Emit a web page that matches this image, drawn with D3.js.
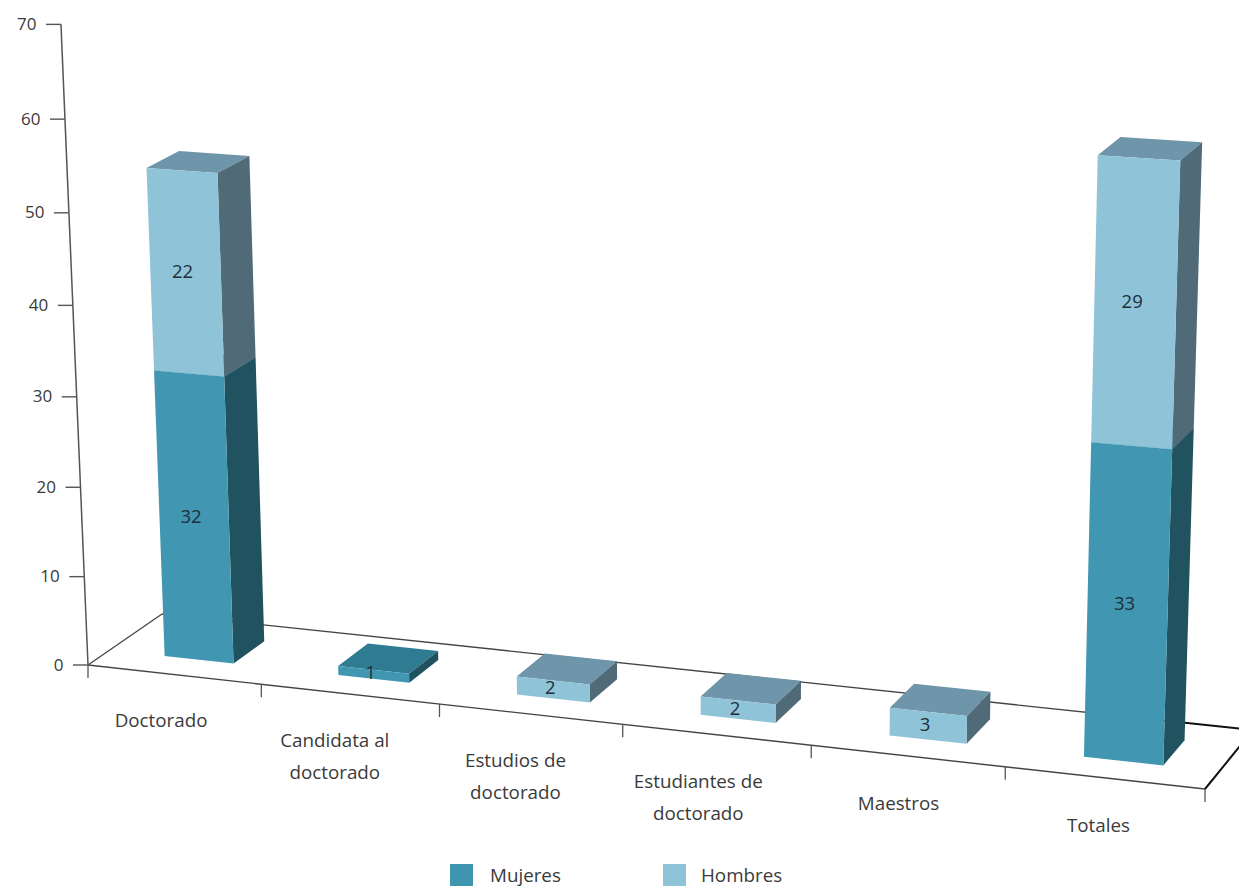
<!DOCTYPE html>
<html lang="es">
<head>
<meta charset="utf-8">
<style>
html,body{margin:0;padding:0;background:#fff;}
svg{display:block;}
text{font-family:"Open Sans",sans-serif;}
</style>
<script src="https://cdn.jsdelivr.net/npm/d3@7"></script>
</head>
<body>
<svg id="chart" width="1239" height="888"></svg>
<script>
// ---- data ----
const categories = [["Doctorado"],["Candidata al","doctorado"],["Estudios de","doctorado"],["Estudiantes de","doctorado"],["Maestros"],["Totales"]];
const mujeres = [32,1,0,0,0,33];
const hombres = [22,0,2,2,3,29];
const seriesNames = ["Mujeres","Hombres"];
const yTicks = [0,10,20,30,40,50,60,70];

// ---- styles ----
const faces = {
  Mujeres:{front:"#4197b2",side:"#20525f",top:"#2f7c92",legend:"#3f95ae"},
  Hombres:{front:"#8fc3d8",side:"#506a78",top:"#6f95aa",legend:"#8fc3d8"}
};

// ---- perspective: floor quad (front-left, front-right, back-right, back-left) and vertical vanishing point ----
const quad = [[88,665],[1205,789],[1253,730],[162,614]];
const vanish = [735,16000];
function floorMatrix(q){
  const [[x0,y0],[x1,y1],[x2,y2],[x3,y3]] = q;
  const dx1=x1-x2, dx2=x3-x2, sx=x0-x1+x2-x3;
  const dy1=y1-y2, dy2=y3-y2, sy=y0-y1+y2-y3;
  const den=dx1*dy2-dx2*dy1;
  const g=(sx*dy2-dx2*sy)/den, h=(dx1*sy-sx*dy1)/den;
  return {a:x1-x0+g*x1,b:x3-x0+h*x3,c:x0,d:y1-y0+g*y1,e:y3-y0+h*y3,f:y0,g,h};
}
const M = floorMatrix(quad);
const keys = categories.map(c=>c.join(" "));
const band = d3.scaleBand().domain(keys).range([0,1]).paddingInner(0.6).paddingOuter(0.3);
const rise = d3.scaleLinear().domain([0,70]).range([0,0.0401]);
const barDepth = [0.29,0.72];
const barShift = 0.0035;
const labelDx = d3.scaleOrdinal().domain(keys).range([-13,-15,-15,-18,-9,-6]);
const labelDy = d3.scaleLinear().domain([0,1]).range([47,49]);

function project(u,v,val){
  const t = rise(val);
  const X = M.a*u+M.b*v+M.c - t*vanish[0];
  const Y = M.d*u+M.e*v+M.f - t*vanish[1];
  const W = M.g*u+M.h*v+1 - t;
  return [X/W,Y/W];
}

const svg = d3.select("#chart");
const poly = d3.line().curve(d3.curveLinearClosed);

// ---- floor lines ----
const gFloor = svg.append("g").attr("fill","none").attr("stroke-linecap","butt");
const edge = (a,b,col,w)=>gFloor.append("line")
  .attr("x1",a[0]).attr("y1",a[1]).attr("x2",b[0]).attr("y2",b[1])
  .attr("stroke",col).attr("stroke-width",w);
edge(project(0,0,0),project(0,1,0),"#444",1.3);
edge(project(0,0,0),project(1,0,0),"#444",1.4);
edge(project(0,1,0),project(0.9,1,0),"#444",1.3);
edge(project(0.9,1,0),project(1,1,0),"#111",2);
edge(project(1,0,0),project(1,1,0),"#111",2);

// ---- value axis ----
const gAxis = svg.append("g");
edge(project(0,0,0),project(0,0,70),"#555",1.5);
yTicks.forEach(v=>{
  const p = project(0,0,v);
  gAxis.append("line").attr("x1",p[0]-15).attr("y1",p[1]).attr("x2",p[0]).attr("y2",p[1])
    .attr("stroke","#555").attr("stroke-width",1.4);
  gAxis.append("text").attr("x",p[0]-24.5).attr("y",p[1]+1).attr("text-anchor","end")
    .attr("dominant-baseline","middle").attr("font-size",17).attr("fill","#3a3a3a").text(v);
});

// ---- category ticks and labels ----
const gCat = svg.append("g");
d3.range(0,categories.length+1).forEach(i=>{
  const p = project(i*band.step(),0,0);
  gCat.append("line").attr("x1",p[0]).attr("y1",p[1]).attr("x2",p[0]).attr("y2",p[1]+13)
    .attr("stroke","#555").attr("stroke-width",1.3);
});
categories.forEach((lines,i)=>{
  const u = band(keys[i])+band.bandwidth()/2;
  const p = project(u,0,0);
  const t = gCat.append("text").attr("font-size",18.8).attr("fill","#3a3a3a").attr("text-anchor","middle");
  lines.forEach((ln,j)=>{
    t.append("tspan").attr("x",p[0]+labelDx(keys[i])).attr("y",p[1]+labelDy(u)+j*32.5).attr("dominant-baseline","middle").text(ln);
  });
});

// ---- stacked 3D bars ----
const rows = keys.map((k,i)=>({key:k,Mujeres:mujeres[i],Hombres:hombres[i]}));
const stacked = d3.stack().keys(seriesNames)(rows);
const gBars = svg.append("g");
const gVals = svg.append("g");
keys.forEach((k,i)=>{
  const u0 = band(k)+barShift, u1 = u0+band.bandwidth();
  const [v0,v1] = barDepth;
  stacked.forEach(s=>{
    const [lo,hi] = s[i];
    if(hi<=lo) return;
    const c = faces[s.key];
    const g = gBars.append("g");
    g.append("path").attr("fill",c.top).attr("d",poly([project(u0,v0,hi),project(u1,v0,hi),project(u1,v1,hi),project(u0,v1,hi)]));
    g.append("path").attr("fill",c.side).attr("d",poly([project(u1,v0,lo),project(u1,v1,lo),project(u1,v1,hi),project(u1,v0,hi)]));
    g.append("path").attr("fill",c.front).attr("d",poly([project(u0,v0,lo),project(u1,v0,lo),project(u1,v0,hi),project(u0,v0,hi)]));
    const m = project((u0+u1)/2,v0,(lo+hi)/2);
    gVals.append("text").attr("x",m[0]-3).attr("y",m[1]).attr("text-anchor","middle")
      .attr("dominant-baseline","middle").attr("font-size",18.5).attr("fill","#1d2f3c").text(hi-lo);
  });
});

// ---- legend ----
const legendX = d3.scalePoint().domain(seriesNames).range([450,663]);
seriesNames.forEach(n=>{
  const x = legendX(n);
  svg.append("rect").attr("x",x).attr("y",864).attr("width",23).attr("height",22).attr("fill",faces[n].legend);
  svg.append("text").attr("x",x+(n==="Mujeres"?40:38)).attr("y",877).attr("dominant-baseline","middle")
    .attr("font-size",18.8).attr("fill","#3a3a3a").text(n);
});
</script>
</body>
</html>
